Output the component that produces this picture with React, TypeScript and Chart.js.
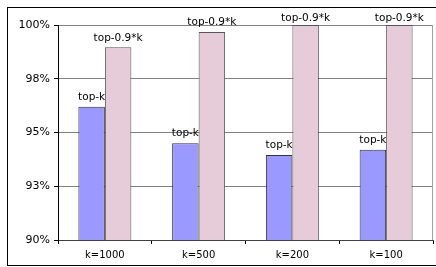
import React, { useEffect, useRef } from "react";
import { Chart, registerables } from "chart.js";

Chart.register(...registerables);

const categories = ["k=1000", "k=500", "k=200", "k=100"];
const seriesNames = ["top-k", "top-0.9*k"];
const topK = [96.2, 94.5, 93.95, 94.2];
const top09K = [98.96, 99.67, 100, 100];
const yMin = 90;
const yMax = 100;
const yStep = 2.5;

const FONT = "'DejaVu Sans', Verdana, sans-serif";

const framePlugin = {
  id: "frame",
  beforeDraw(chart: any) {
    const ctx = chart.ctx;
    ctx.save();
    ctx.fillStyle = "#ffffff";
    ctx.fillRect(0, 0, chart.width, chart.height);
    ctx.strokeStyle = "#000000";
    ctx.lineWidth = 1;
    ctx.strokeRect(7.5, 7.5, chart.width + 10, 258);
    ctx.restore();
  },
  afterDraw(chart: any) {
    const { ctx, chartArea } = chart;
    ctx.save();
    ctx.strokeStyle = "#a0a0a0";
    ctx.lineWidth = 1;
    ctx.beginPath();
    ctx.moveTo(Math.round(chartArea.right) - 0.5, chartArea.top);
    ctx.lineTo(Math.round(chartArea.right) - 0.5, chartArea.bottom);
    ctx.stroke();
    ctx.restore();
  },
};

const labelPlugin = {
  id: "barLabels",
  afterDatasetsDraw(chart: any) {
    const ctx = chart.ctx;
    ctx.save();
    ctx.font = `10.5px ${FONT}`;
    ctx.fillStyle = "#000000";
    ctx.textAlign = "center";
    ctx.textBaseline = "middle";
    chart.data.datasets.forEach((ds: any, di: number) => {
      const meta = chart.getDatasetMeta(di);
      meta.data.forEach((el: any) => {
        const y = Math.max(el.y - 9.5, 18.5);
        ctx.fillText(ds.label, el.x, y);
      });
    });
    ctx.restore();
  },
};

export default function App() {
  const ref = useRef<HTMLCanvasElement>(null);
  useEffect(() => {
    if (!ref.current) return;
    const chart = new Chart(ref.current, {
      type: "bar",
      data: {
        labels: categories,
        datasets: [
          {
            label: seriesNames[0],
            data: topK,
            backgroundColor: "#9999ff",
            borderColor: "#333333",
            borderWidth: 1,
            categoryPercentage: 0.565,
            barPercentage: 1,
          },
          {
            label: seriesNames[1],
            data: top09K,
            backgroundColor: "#e6cbd9",
            borderColor: "#555555",
            borderWidth: 1,
            categoryPercentage: 0.565,
            barPercentage: 1,
          },
        ],
      },
      options: {
        animation: false,
        responsive: false,
        maintainAspectRatio: false,
        layout: { padding: { top: 25, right: 3, bottom: 0, left: 8 } },
        plugins: {
          legend: { display: false },
          tooltip: { enabled: false },
        },
        scales: {
          x: {
            afterFit: (s: any) => {
              s.height = 27;
            },
            grid: {
              display: true,
              drawOnChartArea: false,
              drawTicks: true,
              tickLength: 4,
              color: "#000000",
              offset: true,
            },
            border: { display: true, color: "#404040", width: 1 },
            ticks: {
              color: "#000000",
              font: { family: FONT, size: 10 },
              padding: 5,
              maxRotation: 0,
            },
          },
          y: {
            min: yMin,
            max: yMax,
            afterFit: (s: any) => {
              s.width = 50;
            },
            grid: {
              color: "#808080",
              lineWidth: 1,
              tickLength: 4,
              tickColor: "#000000",
            },
            border: { display: true, color: "#000000", width: 1 },
            ticks: {
              stepSize: yStep,
              color: "#000000",
              font: { family: FONT, size: 11 },
              padding: 4,
              callback: (v: any) => `${Math.round(Number(v))}%`,
            },
          },
        },
      },
      plugins: [framePlugin, labelPlugin],
    });
    return () => chart.destroy();
  }, []);
  return (
    <canvas
      ref={ref}
      width={436}
      height={267}
      style={{ position: "fixed", left: 0, top: 0, display: "block" }}
    />
  );
}
